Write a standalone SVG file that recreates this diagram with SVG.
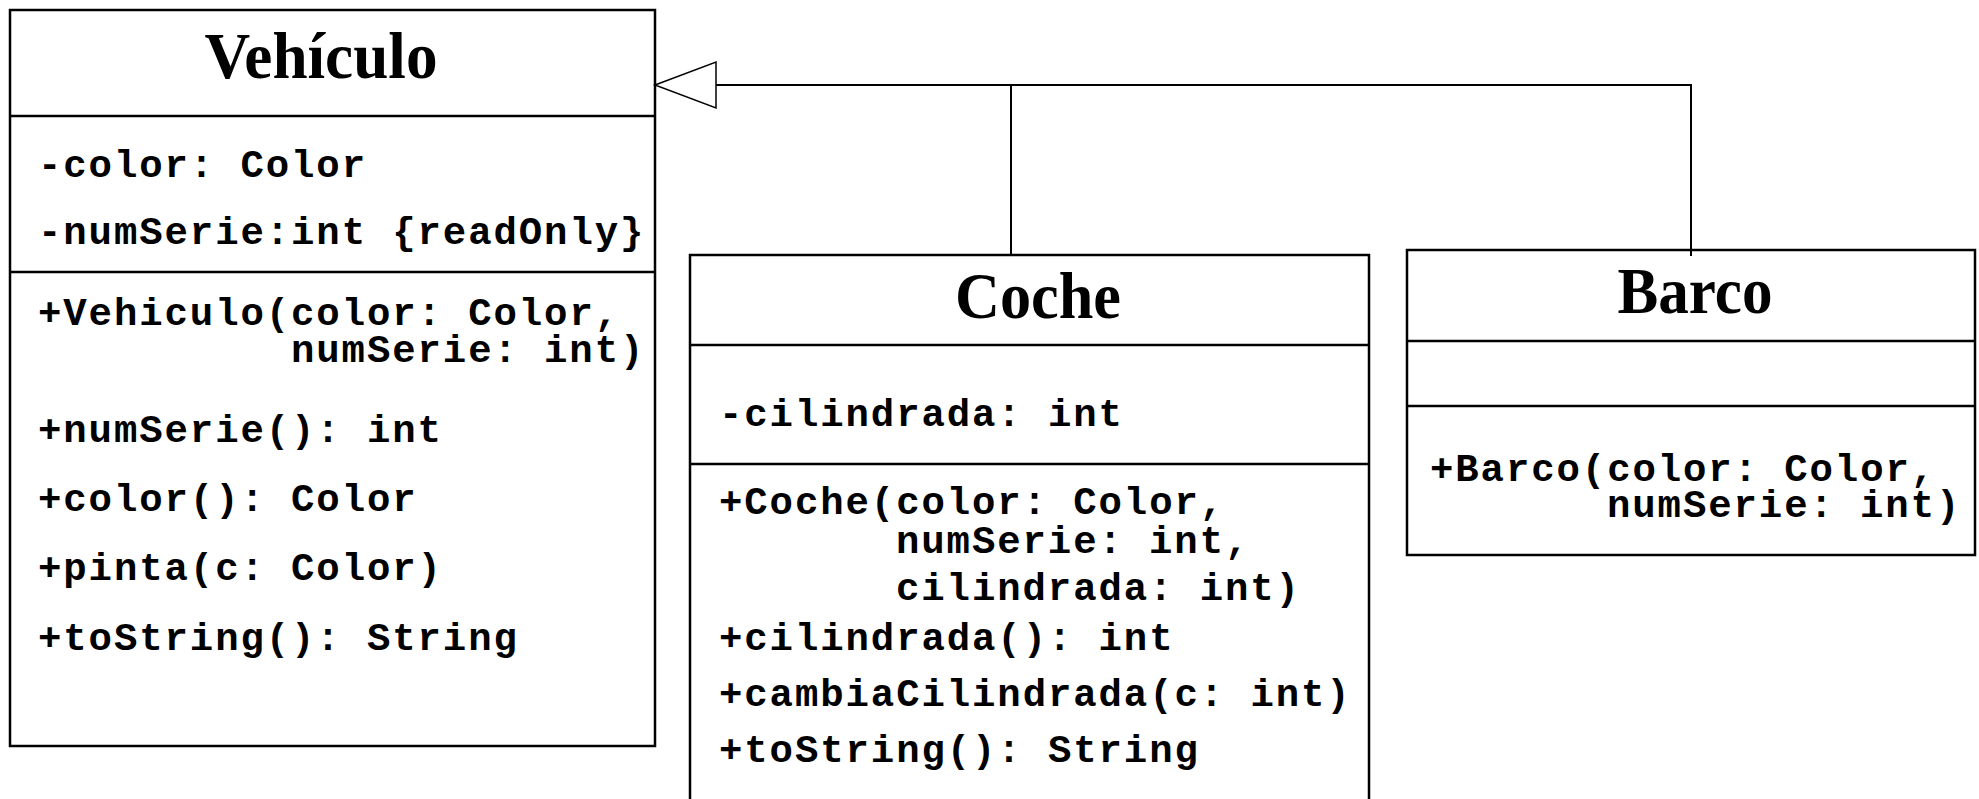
<svg xmlns="http://www.w3.org/2000/svg" width="1979" height="799" viewBox="0 0 1979 799">
  <style>
    .box { fill: #ffffff; stroke: #000000; stroke-width: 2.5; }
    .sep { stroke: #000000; stroke-width: 2.5; }
    .title { font-family: "Liberation Serif", "Times New Roman", serif; font-weight: bold; font-size: 66px; text-anchor: middle; fill: #000000; }
    .mono { font-family: "Liberation Mono", "Courier New", monospace; font-weight: bold; font-size: 39px; letter-spacing: 1.9px; fill: #000000; }
    .conn { fill: none; stroke: #000000; stroke-width: 2; }
    .head { fill: #ffffff; stroke: #000000; stroke-width: 1.5; }
  </style>
  <rect x="0" y="0" width="1979" height="799" fill="#ffffff"/>

  <!-- Superclass -->
  <g id="vehiculo">
    <rect class="box" x="10" y="10" width="645" height="736"/>
    <line class="sep" x1="10" y1="116" x2="655" y2="116"/>
    <line class="sep" x1="10" y1="272" x2="655" y2="272"/>
    <text class="title" x="321" y="78" textLength="233" lengthAdjust="spacingAndGlyphs">Vehículo</text>
    <text class="mono" x="38" y="177">-color: Color</text>
    <text class="mono" x="38" y="244">-numSerie:int {readOnly}</text>
    <text class="mono"><tspan x="38" y="325">+Vehiculo(color: Color,</tspan><tspan x="291" y="362">numSerie: int)</tspan></text>
    <text class="mono" x="38" y="442">+numSerie(): int</text>
    <text class="mono" x="38" y="511">+color(): Color</text>
    <text class="mono" x="38" y="580">+pinta(c: Color)</text>
    <text class="mono" x="38" y="650">+toString(): String</text>
  </g>

  <!-- Subclass: car -->
  <g id="coche">
    <rect class="box" x="690" y="255" width="679" height="570"/>
    <line class="sep" x1="690" y1="345" x2="1369" y2="345"/>
    <line class="sep" x1="690" y1="464" x2="1369" y2="464"/>
    <text class="title" x="1038" y="318" textLength="166" lengthAdjust="spacingAndGlyphs">Coche</text>
    <text class="mono" x="719" y="426">-cilindrada: int</text>
    <text class="mono"><tspan x="719" y="514">+Coche(color: Color,</tspan><tspan x="896" y="553">numSerie: int,</tspan><tspan x="896" y="600">cilindrada: int)</tspan></text>
    <text class="mono" x="719" y="650">+cilindrada(): int</text>
    <text class="mono" x="719" y="706">+cambiaCilindrada(c: int)</text>
    <text class="mono" x="719" y="762">+toString(): String</text>
  </g>

  <!-- Subclass: boat -->
  <g id="barco">
    <rect class="box" x="1407" y="250" width="568" height="305"/>
    <line class="sep" x1="1407" y1="341" x2="1975" y2="341"/>
    <line class="sep" x1="1407" y1="406" x2="1975" y2="406"/>
    <text class="title" x="1695" y="313" textLength="155" lengthAdjust="spacingAndGlyphs">Barco</text>
    <text class="mono"><tspan x="1430" y="481">+Barco(color: Color,</tspan><tspan x="1607" y="517">numSerie: int)</tspan></text>
  </g>

  <!-- Generalization: Coche and Barco extend Vehiculo -->
  <g id="connectors">
    <polyline class="conn" points="1011,255 1011,85 716,85"/>
    <polyline class="conn" points="1691,256 1691,85 1011,85"/>
    <polygon class="head" points="655,85 716,62 716,108"/>
  </g>
</svg>
